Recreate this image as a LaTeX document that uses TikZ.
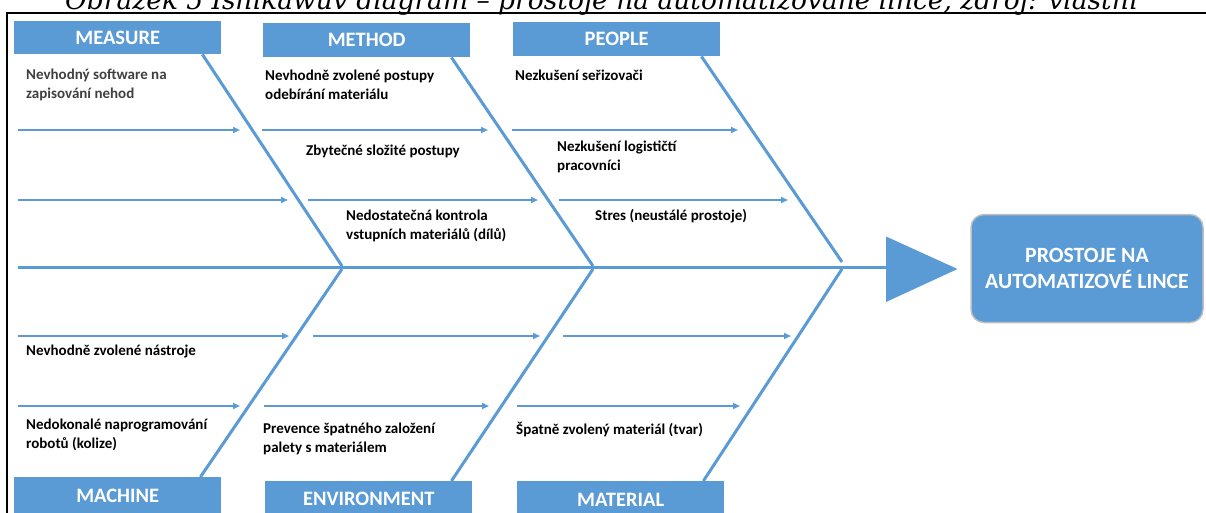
\documentclass[tikz,border=0pt]{standalone}
\usepackage{fontspec}
\setmainfont{Carlito}
\newfontfamily\captionfont{DejaVu Serif}
\usetikzlibrary{arrows.meta,positioning}
\definecolor{ishiblue}{HTML}{5B9BD5}

\begin{document}
\begin{tikzpicture}[x=1pt,y=-1pt]
  %% ISHIKAWA

  \tikzstyle{every node}=[inner sep=0pt]
  \tikzstyle{category}=[fill=ishiblue,text=white,anchor=north west,
    minimum width=207pt,font=\bfseries\fontsize{20.5}{20.5}\selectfont]
  \tikzstyle{cause}=[anchor=west,align=left,font=\bfseries\fontsize{15}{19}\selectfont]
  \tikzstyle{bone}=[draw=ishiblue,line width=3pt]
  \tikzstyle{twig}=[draw=ishiblue,line width=2pt,-{Triangle[length=7pt,width=6pt]}]
  \tikzstyle{effect}=[fill=ishiblue,draw=black!25,line width=1.5pt,rounded corners=13pt,
    minimum width=232pt,minimum height=108pt,text=white,align=center,
    font=\bfseries\fontsize{21.8}{26}\selectfont]

  \useasboundingbox (0,0) rectangle (1206,513);
  \clip (0,0) rectangle (1206,513);

  % legende et cadre
  \node[anchor=base west,font=\captionfont\itshape\fontsize{26.5}{26.5}\selectfont] (caption)
  at (65,9.5) {Obrázek 5 Ishikawův diagram – prostoje na automatizované lince, zdroj: vlastní};
  \draw[line width=2pt] (7,513) -- (7,13) -- (1206,13);

  % categories
  \node[category,minimum height=33pt] (measure) at (14,21) {MEASURE};
  \node[category,minimum height=34pt] (method) at (263,23) {METHOD};
  \node[category,minimum height=34pt] (people) at (513,22) {PEOPLE};
  \node[category,minimum height=38pt] (machine) at (14,477) {MACHINE};
  \node[category,minimum height=36pt] (environment) at (265,481) {ENVIRONMENT};
  \node[category,minimum height=38pt] (material) at (517,481) {MATERIAL};

  % arete centrale
  \coordinate (tail) at (18,267.5);
  \coordinate (head) at (887,267.5);
  \path (tail) edge[draw=ishiblue,line width=3.5pt] (head);
  \fill[ishiblue] (886,236.5) -- (957.5,269) -- (886,302) -- cycle;
  \node[effect] (effect) at (1087,268.5) {PROSTOJE NA\\AUTOMATIZOVÉ LINCE};

  % grandes aretes
  \foreach \cat/\x/\yt/\yb in {measure/342/266/269, method/593/266/269, people/842/262/269}{
    \coordinate (\cat-end) at (\x,\yt);
    \path ([xshift=-19pt]\cat.south east) edge[bone] (\cat-end);
  }
  \foreach \cat/\x in {machine/342, environment/593, material/842}{
    \coordinate (\cat-end) at (\x,269);
    \path ([xshift=-21pt]\cat.north east) edge[bone] (\cat-end);
  }

  % petites fleches
  \foreach \y/\xa/\xb [count=\i] in {130/18/240, 130/262/488, 130/512/738,
    200/18/288, 200/308/538, 200/559/788,
    336/18/289, 336/313/540, 336/563/791,
    406/18/240, 406/264/489, 406/517/740}{
    \coordinate (ta\i) at (\xa,\y);
    \coordinate (tb\i) at (\xb,\y);
    \path (ta\i) edge[twig] (tb\i);
  }

  % causes
  \node[cause,text=black!75] (c1) at (26,85) {Nevhodný software na\\zapisování nehod};
  \node[cause] (c2) at (265,85) {Nevhodně zvolené postupy\\odebírání materiálu};
  \node[cause] (c3) at (515,75) {Nezkušení seřizovači};
  \node[cause] (c4) at (306,151) {Zbytečné složité postupy};
  \node[cause] (c5) at (557,157) {Nezkušení logističtí\\pracovníci};
  \node[cause] (c6) at (346,226) {Nedostatečná kontrola\\vstupních materiálů (dílů)};
  \node[cause] (c7) at (595,216) {Stres (neustálé prostoje)};
  \node[cause] (c8) at (26,352) {Nevhodně zvolené nástroje};
  \node[cause] (c9) at (26,435) {Nedokonalé naprogramování\\robotů (kolize)};
  \node[cause] (c10) at (263,439) {Prevence špatného založení\\palety s materiálem};
  \node[cause] (c11) at (516,430) {Špatně zvolený materiál (tvar)};
\end{tikzpicture}
\end{document}
